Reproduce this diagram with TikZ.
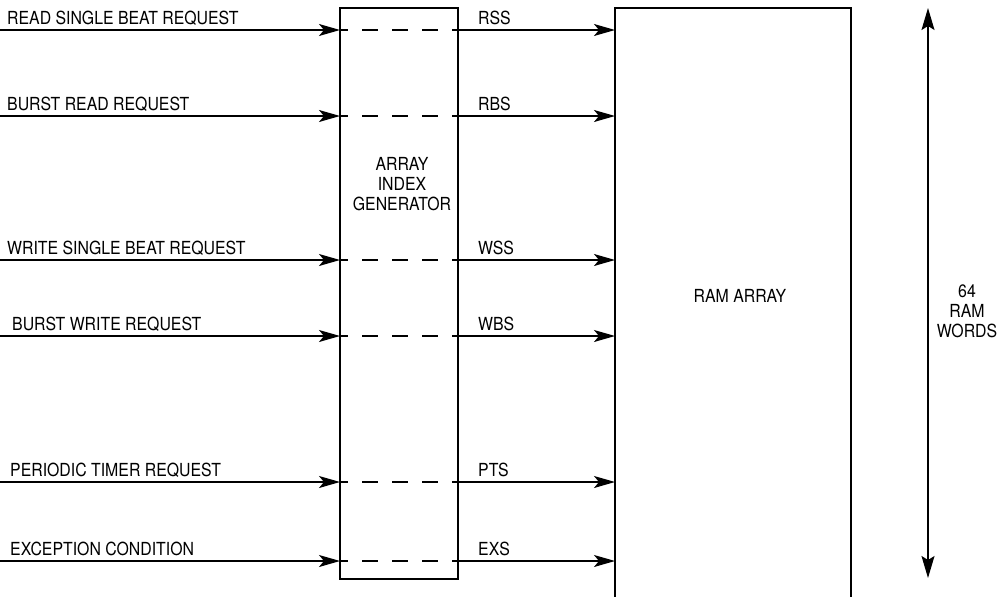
\documentclass[tikz,border=0pt]{standalone}
\usepackage{fontspec}
\setmainfont{TeX Gyre Heros}[FakeStretch=0.88]
\usetikzlibrary{calc,arrows.meta}

\tikzset{
  lbl/.style={inner sep=0pt, font=\fontsize{18}{20}\selectfont},
  sigline/.style={line width=1.5pt, -{Stealth[length=21pt, width=12pt, inset=5pt]}},
  dashline/.style={line width=1.5pt, dash pattern=on 16pt off 14pt, dash phase=8pt},
  blockbox/.style={draw, line width=2pt, outer sep=0pt, inner sep=0pt}
}

\begin{document}
\begin{tikzpicture}[x=1pt, y=-1pt]
  \useasboundingbox (0,0) rectangle (1007,597);

  % index generator and ram array
  \node[blockbox, minimum width=118pt, minimum height=571pt] (aig) at (399,293.5) {};
  \node[lbl, align=center] (aigtext) at (402,184) {ARRAY\\INDEX\\GENERATOR};
  \coordinate (ramtl) at (615,8);
  \coordinate (ramtr) at (851,8);
  \draw[line width=2pt] (ramtl |- 0,597) -- (ramtl) -- (ramtr) -- (ramtr |- 0,597);
  \node[lbl] (ramtext) at (740,296) {RAM ARRAY};

  % request lines
  \foreach \y/\sig/\req/\lx in {30/RSS/READ SINGLE BEAT REQUEST/7,
      116/RBS/BURST READ REQUEST/7,
      260/WSS/WRITE SINGLE BEAT REQUEST/7,
      336/WBS/BURST WRITE REQUEST/12,
      482/PTS/PERIODIC TIMER REQUEST/10,
      561/EXS/EXCEPTION CONDITION/10} {
    \coordinate (in\sig) at (0,\y);
    \draw[sigline] (in\sig) -- (in\sig -| aig.west);
    \draw[dashline] (in\sig -| aig.west) -- (in\sig -| aig.east);
    \draw[sigline] (in\sig -| aig.east) -- (in\sig -| ramtl);
    \node[lbl, anchor=base west] (req\sig) at (\lx,\y-6) {\req};
    \node[lbl, anchor=base west] (lab\sig) at (478,\y-6) {\sig};
  }

  % word count
  \coordinate (wtop) at (928,8);
  \coordinate (wbot) at (928,578);
  \draw[line width=1.3pt, {Stealth[length=22pt, width=13pt, inset=4pt]}-{Stealth[length=22pt, width=13pt, inset=4pt]}] (wbot) -- (wtop);
  \node[lbl, align=center] (words) at (967,311) {64\\RAM\\WORDS};
\end{tikzpicture}
\end{document}
